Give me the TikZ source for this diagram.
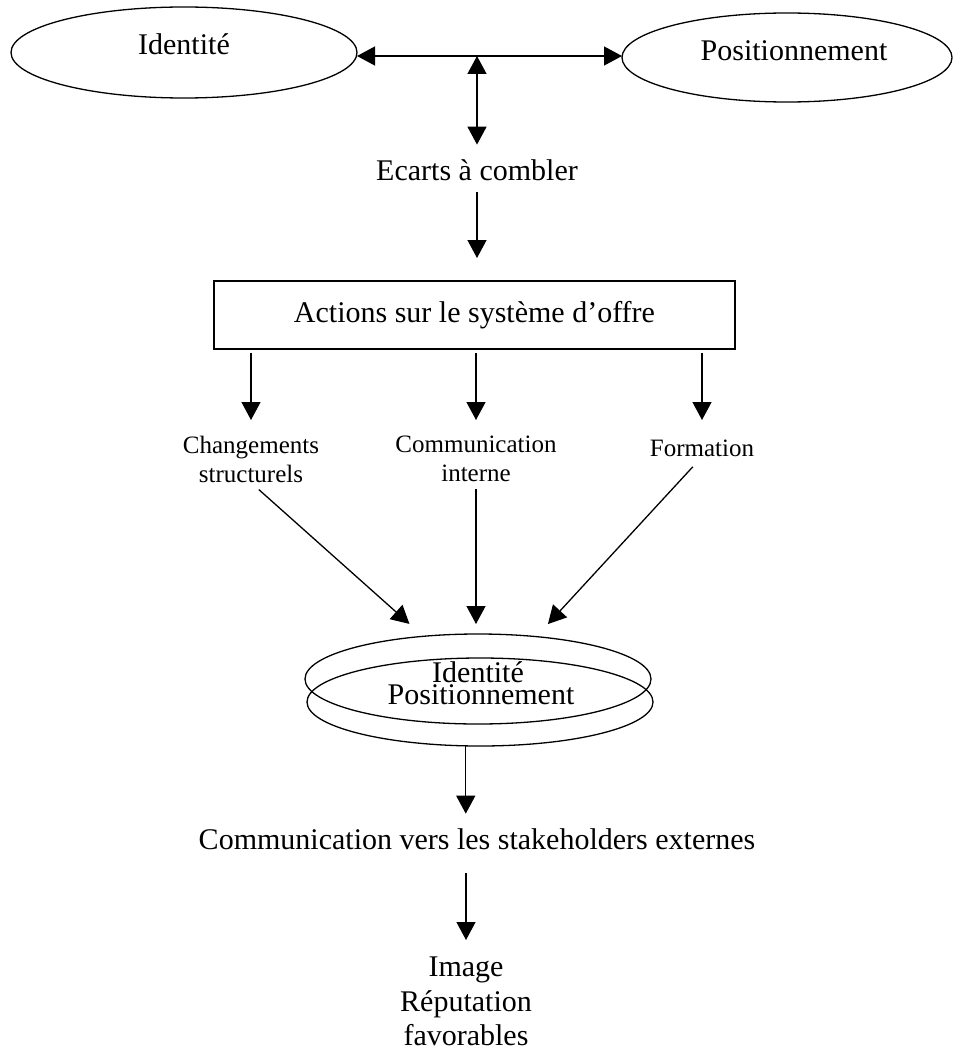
\documentclass[tikz,border=0pt]{standalone}
\usepackage{fontspec}
\setmainfont{Liberation Serif}
\usetikzlibrary{arrows.meta,shapes.geometric}
\begin{document}
\begin{tikzpicture}[x=1pt,y=-1pt,
  line width=1.3pt,
  arr/.style={-{Triangle[length=18pt,width=19pt]}},
  arrboth/.style={{Triangle[length=18pt,width=19pt]}-{Triangle[length=18pt,width=19pt]}},
  ell/.style={draw, ellipse, inner sep=0pt, outer sep=0pt},
  big/.style={font=\fontsize{30}{34.5}\selectfont, inner sep=0pt, outer sep=0pt},
  small/.style={font=\fontsize{25}{29}\selectfont, inner sep=0pt, outer sep=0pt, align=center},
]
\useasboundingbox (0,0) rectangle (954,1051);

% top ellipses
\node[ell, minimum width=346pt, minimum height=91pt] (id) at (184,52.5) {};
\node[big, anchor=base] (idtxt) at (184,55) {Identité};
\node[ell, minimum width=330pt, minimum height=89pt] (pos) at (787,57.5) {};
\node[big, anchor=base] (postxt) at (794,61) {Positionnement};
\coordinate (jn) at (477,56);
\draw[arrboth] (id.east |- jn) -- (pos.west |- jn);

\node[big, anchor=base] (ecarts) at (477,180) {Ecarts à combler};
\draw[arrboth, shorten >=14.5pt] (jn) -- (jn |- ecarts.north);

\node[big, draw, minimum width=521pt, minimum height=68pt] (box) at (474.5,315) {Actions sur le système d’offre};
\draw[arr, shorten <=12pt, shorten >=23pt] (ecarts.south -| jn) -- (box.north -| jn);

% actions
\node[small, anchor=north] (chg) at (251,436) {Changements\\structurels};
\node[small, anchor=north] (comm) at (476,436) {Communication\\interne};
\node[small, anchor=north] (form) at (702,440) {Formation};
\draw[arr, shorten <=4pt, shorten >=16pt] (box.south -| chg.north) -- (chg.north);
\draw[arr, shorten <=4pt, shorten >=16pt] (box.south -| comm.north) -- (comm.north);
\draw[arr, shorten <=4pt, shorten >=20pt] (box.south -| form.north) -- (form.north);

% double ellipse
\node[ell, minimum width=346pt, minimum height=90pt] (ellA) at (478,679) {};
\node[ell, minimum width=346pt, minimum height=88pt] (ellB) at (480,702) {};
\node[big, anchor=base] (idt2) at (478,682) {Identité};
\node[big, anchor=base] (pos2) at (481,704) {Positionnement};

\draw[arr, shorten <=10.5pt, shorten >=18.6pt] (chg.south) -- (ellA.142.8);
\draw[arr, shorten <=7pt, shorten >=10pt] (comm.south) -- (comm.south |- ellA.north);
\draw[arr, shorten <=13.6pt, shorten >=17.1pt] (form.south) -- (ellA.36.5);

% bottom
\node[big, anchor=base] (ext) at (477,849) {Communication vers les stakeholders externes};
\draw[arr, shorten >=14.5pt] (ellB.252.3) -- (ellB.252.3 |- ext.north);
\node[big, anchor=north, align=center] (img) at (466,957) {Image\\Réputation\\favorables};
\draw[arr, shorten <=24pt, shorten >=17pt] (ext.south -| img.north) -- (img.north);
\end{tikzpicture}
\end{document}
